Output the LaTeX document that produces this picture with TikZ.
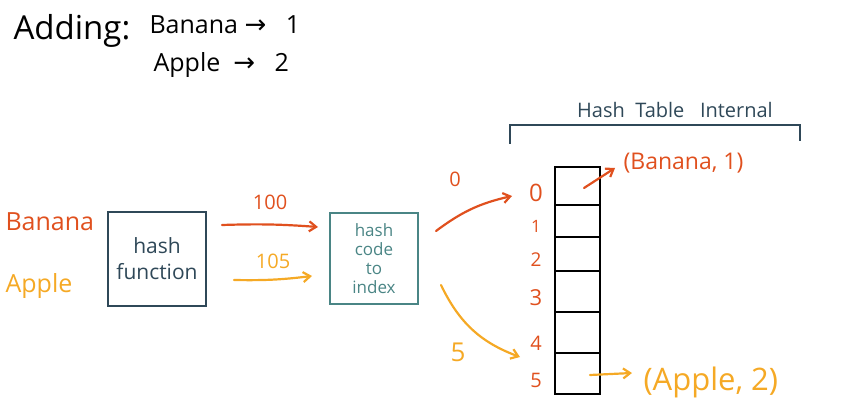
\documentclass[tikz,border=0pt]{standalone}
\usepackage{fontspec}
\setmainfont{Open Sans}
\newfontfamily\symfont{DejaVu Sans}
\usetikzlibrary{arrows.meta,positioning}

\definecolor{bananared}{HTML}{E0501E}
\definecolor{appleorange}{HTML}{F5A925}
\definecolor{slate}{HTML}{2F4858}
\definecolor{tealbox}{HTML}{4A8585}

\tikzset{
  hand/.style={line width=2.2pt, line cap=round, -{Straight Barb[length=7pt,width=10pt]}},
  box/.style={draw, line width=2.4pt, inner sep=0pt},
  cell/.style={draw, line width=2.2pt, minimum width=45pt, inner sep=0pt},
}

\begin{document}
\begin{tikzpicture}[x=1pt, y=-1pt]
  \useasboundingbox (0,0) rectangle (849,409);

  % title
  \node[anchor=base west, font=\fontsize{33}{33}\selectfont] (add) at (10,40) {Adding:};
  \node[anchor=base west, font=\fontsize{25}{25}\selectfont] (bt) at (146,34)
    {Banana {\symfont\fontsize{26}{26}\selectfont →}\ \ \ 1};
  \node[anchor=base west, font=\fontsize{25}{25}\selectfont] (at) at (150,72)
    {Apple\ \ {\symfont\fontsize{26}{26}\selectfont →}\ \ \ 2};

  % keys
  \node[anchor=base west, bananared, font=\fontsize{25}{25}\selectfont] (banana) at (2,230) {Banana};
  \node[anchor=base west, appleorange, font=\fontsize{25}{25}\selectfont] (apple) at (2,292) {Apple};

  % hash function box
  \node[box, slate, minimum width=98pt, minimum height=94pt, align=center,
        font=\fontsize{21}{26}\selectfont] (hf) at (157,259) {hash\\function};

  % hash code to index box
  \node[box, tealbox, minimum width=88pt, minimum height=91pt, align=center,
        font=\fontsize{17}{19}\selectfont] (hc) at (374,258.5) {hash\\code\\to\\index};

  % hash codes
  \coordinate (r1) at (222,225);
  \coordinate (r2) at (318,227);
  \draw[hand, bananared] (r1) to[bend left=3] node[above=10pt, font=\fontsize{20}{20}\selectfont] {100} (r2);
  \coordinate (o1) at (234,280);
  \coordinate (o2) at (312,276);
  \draw[hand, appleorange] (o1) to[bend right=4] node[above=6pt, font=\fontsize{20}{20}\selectfont] {105} (o2);

  % table cells
  \foreach \i/\t/\b in {0/167/205, 1/205/237, 2/237/271, 3/271/312, 4/312/353, 5/353/394}
    \node[cell, minimum height={\b-\t}] (c\i) at (577.5,{(\t+\b)/2}) {};

  % index labels
  \foreach \i/\y/\s in {0/193/24, 1/226/17, 2/260/19, 3/298/22, 4/343/20, 5/380/20}
    \node[bananared, font=\fontsize{\s}{\s}\selectfont] (n\i) at (536,\y) {\i};

  % indices
  \coordinate (s0) at (436,231);
  \coordinate (e0) at (512,196);
  \draw[hand, bananared] (s0) to[bend left=12] (e0);
  \node[bananared, font=\fontsize{20}{20}\selectfont] (l0) at (455,179) {0};
  \coordinate (s5) at (441,285);
  \coordinate (e5) at (520,357);
  \draw[hand, appleorange] (s5) to[bend right=22] (e5);
  \node[appleorange, font=\fontsize{26}{26}\selectfont] (l5) at (458,352) {5};

  % bracket
  \draw[slate, line width=2.4pt] (510,144) -- (510,125) -- (800,125) -- (800,141);
  \node[slate, anchor=base, font=\fontsize{20}{20}\selectfont] (ht) at (675,118)
    {Hash\ \ Table\ \ \ Internal};

  % stored pairs
  \node[anchor=base west, bananared, font=\fontsize{23}{23}\selectfont] (bp) at (620,170) {(Banana, 1)};
  \draw[hand, bananared] (584,188) -- (615,168);
  \node[anchor=base west, appleorange, font=\fontsize{31}{31}\selectfont] (ap) at (640,390) {(Apple, 2)};
  \draw[hand, appleorange] (590,375) -- (632,373);
\end{tikzpicture}
\end{document}
